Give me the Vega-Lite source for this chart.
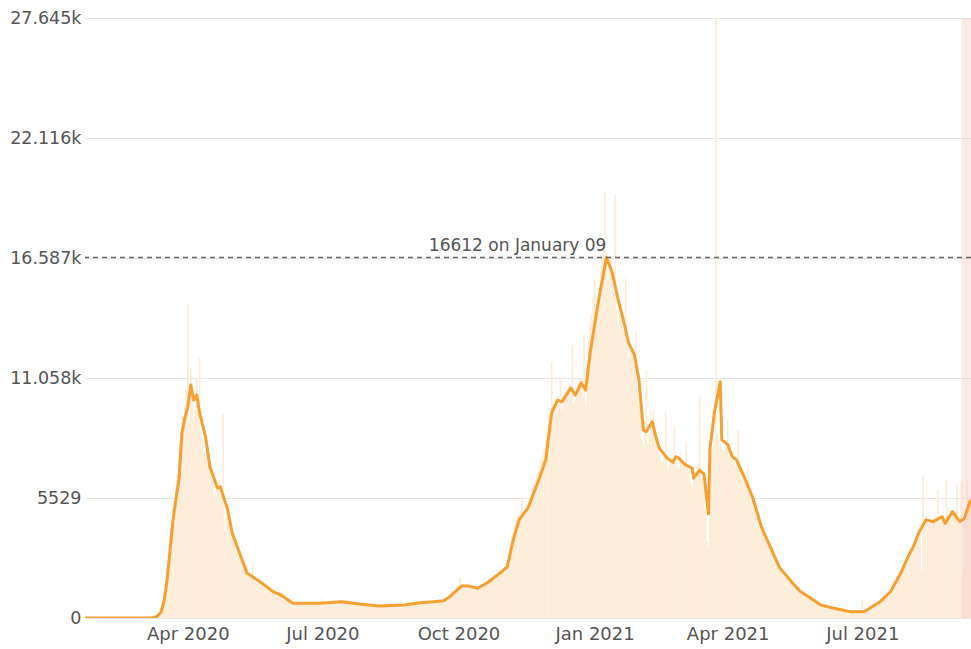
{
  "$schema": "https://vega.github.io/schema/vega-lite/v6.json",
  "width": 886,
  "height": 600,
  "autosize": {"type": "none"},
  "padding": {"left": 85, "top": 18, "right": 0, "bottom": 31},
  "background": "white",
  "config": {
    "view": {"stroke": null},
    "font": "DejaVu Sans",
    "axis": {"labelFont": "DejaVu Sans", "labelColor": "#555555", "domain": false, "ticks": false}
  },
  "datasets": {
    "daily": [
      {"d":"2020-01-22","v":0},{"d":"2020-01-23","v":0},{"d":"2020-01-24","v":0},{"d":"2020-01-25","v":0},{"d":"2020-01-26","v":0},{"d":"2020-01-27","v":0},{"d":"2020-01-28","v":0},{"d":"2020-01-29","v":0},{"d":"2020-01-30","v":0},{"d":"2020-01-31","v":0},
      {"d":"2020-02-01","v":0},{"d":"2020-02-02","v":0},{"d":"2020-02-03","v":0},{"d":"2020-02-04","v":0},{"d":"2020-02-05","v":0},{"d":"2020-02-06","v":0},{"d":"2020-02-07","v":0},{"d":"2020-02-08","v":0},{"d":"2020-02-09","v":0},{"d":"2020-02-10","v":0},{"d":"2020-02-11","v":0},{"d":"2020-02-12","v":0},{"d":"2020-02-13","v":0},{"d":"2020-02-14","v":0},{"d":"2020-02-15","v":0},{"d":"2020-02-16","v":0},{"d":"2020-02-17","v":0},{"d":"2020-02-18","v":0},{"d":"2020-02-19","v":0},{"d":"2020-02-20","v":0},{"d":"2020-02-21","v":0},{"d":"2020-02-22","v":0},{"d":"2020-02-23","v":0},{"d":"2020-02-24","v":0},{"d":"2020-02-25","v":0},{"d":"2020-02-26","v":0},{"d":"2020-02-27","v":0},{"d":"2020-02-28","v":0},{"d":"2020-02-29","v":0},
      {"d":"2020-03-01","v":0},{"d":"2020-03-02","v":0},{"d":"2020-03-03","v":0},{"d":"2020-03-04","v":2},{"d":"2020-03-05","v":5},{"d":"2020-03-06","v":8},{"d":"2020-03-07","v":10},{"d":"2020-03-08","v":15},{"d":"2020-03-09","v":40},{"d":"2020-03-10","v":70},{"d":"2020-03-11","v":120},{"d":"2020-03-12","v":200},{"d":"2020-03-13","v":350},{"d":"2020-03-14","v":500},{"d":"2020-03-15","v":800},{"d":"2020-03-16","v":1200},{"d":"2020-03-17","v":1700},{"d":"2020-03-18","v":2300},{"d":"2020-03-19","v":3000},{"d":"2020-03-20","v":3800},{"d":"2020-03-21","v":4400},{"d":"2020-03-22","v":5000},{"d":"2020-03-23","v":5500},{"d":"2020-03-24","v":6100},{"d":"2020-03-25","v":6600},{"d":"2020-03-26","v":7300},{"d":"2020-03-27","v":8200},{"d":"2020-03-28","v":9300},{"d":"2020-03-29","v":9100},{"d":"2020-03-30","v":9800},{"d":"2020-03-31","v":10500},
      {"d":"2020-04-01","v":14500},{"d":"2020-04-02","v":9000},{"d":"2020-04-03","v":11500},{"d":"2020-04-04","v":10800},{"d":"2020-04-05","v":9000},{"d":"2020-04-06","v":9600},{"d":"2020-04-07","v":11000},{"d":"2020-04-08","v":10500},{"d":"2020-04-09","v":12000},{"d":"2020-04-10","v":8500},{"d":"2020-04-11","v":8200},{"d":"2020-04-12","v":7600},{"d":"2020-04-13","v":7400},{"d":"2020-04-14","v":8200},{"d":"2020-04-15","v":7600},{"d":"2020-04-16","v":6900},{"d":"2020-04-17","v":6700},{"d":"2020-04-18","v":6300},{"d":"2020-04-19","v":5600},{"d":"2020-04-20","v":5900},{"d":"2020-04-21","v":6200},{"d":"2020-04-22","v":6400},{"d":"2020-04-23","v":6000},{"d":"2020-04-24","v":5800},{"d":"2020-04-25","v":9400},{"d":"2020-04-26","v":4000},{"d":"2020-04-27","v":4600},{"d":"2020-04-28","v":5000},{"d":"2020-04-29","v":4400},{"d":"2020-04-30","v":4000},
      {"d":"2020-05-01","v":3700},{"d":"2020-05-02","v":3600},{"d":"2020-05-03","v":3300},{"d":"2020-05-04","v":3000},{"d":"2020-05-05","v":3300},{"d":"2020-05-06","v":3100},{"d":"2020-05-07","v":2800},{"d":"2020-05-08","v":2600},{"d":"2020-05-09","v":2400},{"d":"2020-05-10","v":2100},{"d":"2020-05-11","v":2450},{"d":"2020-05-12","v":2000},{"d":"2020-05-13","v":1900},{"d":"2020-05-14","v":2100},{"d":"2020-05-15","v":2450},{"d":"2020-05-16","v":1800},{"d":"2020-05-17","v":1600},{"d":"2020-05-18","v":1700},{"d":"2020-05-19","v":1900},{"d":"2020-05-20","v":1700},{"d":"2020-05-21","v":1600},{"d":"2020-05-22","v":1500},{"d":"2020-05-23","v":1400},{"d":"2020-05-24","v":1300},{"d":"2020-05-25","v":1400},{"d":"2020-05-26","v":1350},{"d":"2020-05-27","v":1300},{"d":"2020-05-28","v":1250},{"d":"2020-05-29","v":1200},{"d":"2020-05-30","v":1150},{"d":"2020-05-31","v":1100},
      {"d":"2020-06-01","v":1100},{"d":"2020-06-02","v":1080},{"d":"2020-06-03","v":1050},{"d":"2020-06-04","v":1000},{"d":"2020-06-05","v":950},{"d":"2020-06-06","v":900},{"d":"2020-06-07","v":850},{"d":"2020-06-08","v":800},{"d":"2020-06-09","v":750},{"d":"2020-06-10","v":720},{"d":"2020-06-11","v":690},{"d":"2020-06-12","v":700},{"d":"2020-06-13","v":670},{"d":"2020-06-14","v":660},{"d":"2020-06-15","v":700},{"d":"2020-06-16","v":680},{"d":"2020-06-17","v":670},{"d":"2020-06-18","v":690},{"d":"2020-06-19","v":680},{"d":"2020-06-20","v":670},{"d":"2020-06-21","v":660},{"d":"2020-06-22","v":700},{"d":"2020-06-23","v":690},{"d":"2020-06-24","v":680},{"d":"2020-06-25","v":670},{"d":"2020-06-26","v":690},{"d":"2020-06-27","v":680},{"d":"2020-06-28","v":700},{"d":"2020-06-29","v":690},{"d":"2020-06-30","v":680},
      {"d":"2020-07-01","v":900},{"d":"2020-07-02","v":690},{"d":"2020-07-03","v":700},{"d":"2020-07-04","v":710},{"d":"2020-07-05","v":720},{"d":"2020-07-06","v":730},{"d":"2020-07-07","v":740},{"d":"2020-07-08","v":760},{"d":"2020-07-09","v":750},{"d":"2020-07-10","v":760},{"d":"2020-07-11","v":770},{"d":"2020-07-12","v":740},{"d":"2020-07-13","v":760},{"d":"2020-07-14","v":750},{"d":"2020-07-15","v":730},{"d":"2020-07-16","v":720},{"d":"2020-07-17","v":700},{"d":"2020-07-18","v":690},{"d":"2020-07-19","v":680},{"d":"2020-07-20","v":670},{"d":"2020-07-21","v":660},{"d":"2020-07-22","v":660},{"d":"2020-07-23","v":650},{"d":"2020-07-24","v":650},{"d":"2020-07-25","v":640},{"d":"2020-07-26","v":640},{"d":"2020-07-27","v":630},{"d":"2020-07-28","v":620},{"d":"2020-07-29","v":620},{"d":"2020-07-30","v":610},{"d":"2020-07-31","v":600},
      {"d":"2020-08-01","v":600},{"d":"2020-08-02","v":590},{"d":"2020-08-03","v":580},{"d":"2020-08-04","v":580},{"d":"2020-08-05","v":570},{"d":"2020-08-06","v":560},{"d":"2020-08-07","v":560},{"d":"2020-08-08","v":550},{"d":"2020-08-09","v":550},{"d":"2020-08-10","v":550},{"d":"2020-08-11","v":560},{"d":"2020-08-12","v":560},{"d":"2020-08-13","v":560},{"d":"2020-08-14","v":570},{"d":"2020-08-15","v":570},{"d":"2020-08-16","v":570},{"d":"2020-08-17","v":580},{"d":"2020-08-18","v":580},{"d":"2020-08-19","v":580},{"d":"2020-08-20","v":580},{"d":"2020-08-21","v":590},{"d":"2020-08-22","v":590},{"d":"2020-08-23","v":590},{"d":"2020-08-24","v":600},{"d":"2020-08-25","v":600},{"d":"2020-08-26","v":610},{"d":"2020-08-27","v":620},{"d":"2020-08-28","v":620},{"d":"2020-08-29","v":630},{"d":"2020-08-30","v":640},{"d":"2020-08-31","v":650},
      {"d":"2020-09-01","v":660},{"d":"2020-09-02","v":670},{"d":"2020-09-03","v":680},{"d":"2020-09-04","v":690},{"d":"2020-09-05","v":705},{"d":"2020-09-06","v":710},{"d":"2020-09-07","v":720},{"d":"2020-09-08","v":720},{"d":"2020-09-09","v":730},{"d":"2020-09-10","v":740},{"d":"2020-09-11","v":740},{"d":"2020-09-12","v":745},{"d":"2020-09-13","v":750},{"d":"2020-09-14","v":750},{"d":"2020-09-15","v":760},{"d":"2020-09-16","v":770},{"d":"2020-09-17","v":780},{"d":"2020-09-18","v":790},{"d":"2020-09-19","v":790},{"d":"2020-09-20","v":800},{"d":"2020-09-21","v":800},{"d":"2020-09-22","v":850},{"d":"2020-09-23","v":900},{"d":"2020-09-24","v":950},{"d":"2020-09-25","v":980},{"d":"2020-09-26","v":1100},{"d":"2020-09-27","v":1200},{"d":"2020-09-28","v":1250},{"d":"2020-09-29","v":1250},{"d":"2020-09-30","v":1400},
      {"d":"2020-10-01","v":1500},{"d":"2020-10-02","v":1840},{"d":"2020-10-03","v":1500},{"d":"2020-10-04","v":1450},{"d":"2020-10-05","v":1480},{"d":"2020-10-06","v":1500},{"d":"2020-10-07","v":1460},{"d":"2020-10-08","v":1480},{"d":"2020-10-09","v":1700},{"d":"2020-10-10","v":1400},{"d":"2020-10-11","v":1380},{"d":"2020-10-12","v":1350},{"d":"2020-10-13","v":1360},{"d":"2020-10-14","v":1380},{"d":"2020-10-15","v":1400},{"d":"2020-10-16","v":1450},{"d":"2020-10-17","v":1500},{"d":"2020-10-18","v":1550},{"d":"2020-10-19","v":1600},{"d":"2020-10-20","v":1620},{"d":"2020-10-21","v":1650},{"d":"2020-10-22","v":1680},{"d":"2020-10-23","v":1700},{"d":"2020-10-24","v":1800},{"d":"2020-10-25","v":1850},{"d":"2020-10-26","v":1900},{"d":"2020-10-27","v":1950},{"d":"2020-10-28","v":2000},{"d":"2020-10-29","v":2100},{"d":"2020-10-30","v":2200},{"d":"2020-10-31","v":2250},
      {"d":"2020-11-01","v":2300},{"d":"2020-11-02","v":2400},{"d":"2020-11-03","v":2600},{"d":"2020-11-04","v":3000},{"d":"2020-11-05","v":3400},{"d":"2020-11-06","v":3800},{"d":"2020-11-07","v":4000},{"d":"2020-11-08","v":4300},{"d":"2020-11-09","v":4500},{"d":"2020-11-10","v":4700},{"d":"2020-11-11","v":4800},{"d":"2020-11-12","v":5000},{"d":"2020-11-13","v":5575},{"d":"2020-11-14","v":4900},{"d":"2020-11-15","v":4700},{"d":"2020-11-16","v":5100},{"d":"2020-11-17","v":5300},{"d":"2020-11-18","v":5400},{"d":"2020-11-19","v":5700},{"d":"2020-11-20","v":6000},{"d":"2020-11-21","v":6200},{"d":"2020-11-22","v":6400},{"d":"2020-11-23","v":6600},{"d":"2020-11-24","v":6800},{"d":"2020-11-25","v":7000},{"d":"2020-11-26","v":7300},{"d":"2020-11-27","v":7500},{"d":"2020-11-28","v":7800},{"d":"2020-11-29","v":8200},{"d":"2020-11-30","v":8800},
      {"d":"2020-12-01","v":9200},{"d":"2020-12-02","v":9600},{"d":"2020-12-03","v":11810},{"d":"2020-12-04","v":9800},{"d":"2020-12-05","v":9500},{"d":"2020-12-06","v":10000},{"d":"2020-12-07","v":10200},{"d":"2020-12-08","v":9800},{"d":"2020-12-09","v":11120},{"d":"2020-12-10","v":9600},{"d":"2020-12-11","v":10000},{"d":"2020-12-12","v":10400},{"d":"2020-12-13","v":10300},{"d":"2020-12-14","v":10500},{"d":"2020-12-15","v":10800},{"d":"2020-12-16","v":10600},{"d":"2020-12-17","v":12580},{"d":"2020-12-18","v":9900},{"d":"2020-12-19","v":10100},{"d":"2020-12-20","v":10500},{"d":"2020-12-21","v":10800},{"d":"2020-12-22","v":11000},{"d":"2020-12-23","v":10900},{"d":"2020-12-24","v":11200},{"d":"2020-12-25","v":13040},{"d":"2020-12-26","v":9800},{"d":"2020-12-27","v":11500},{"d":"2020-12-28","v":12800},{"d":"2020-12-29","v":13500},{"d":"2020-12-30","v":14000},{"d":"2020-12-31","v":14800},
      {"d":"2021-01-01","v":15570},{"d":"2021-01-02","v":14000},{"d":"2021-01-03","v":14500},{"d":"2021-01-04","v":15000},{"d":"2021-01-05","v":16000},{"d":"2021-01-06","v":16500},{"d":"2021-01-07","v":17000},{"d":"2021-01-08","v":19580},{"d":"2021-01-09","v":16800},{"d":"2021-01-10","v":15500},{"d":"2021-01-11","v":16000},{"d":"2021-01-12","v":16500},{"d":"2021-01-13","v":16200},{"d":"2021-01-14","v":15000},{"d":"2021-01-15","v":19490},{"d":"2021-01-16","v":14200},{"d":"2021-01-17","v":13500},{"d":"2021-01-18","v":14000},{"d":"2021-01-19","v":14500},{"d":"2021-01-20","v":13800},{"d":"2021-01-21","v":13200},{"d":"2021-01-22","v":15730},{"d":"2021-01-23","v":12500},{"d":"2021-01-24","v":12000},{"d":"2021-01-25","v":12300},{"d":"2021-01-26","v":12600},{"d":"2021-01-27","v":12200},{"d":"2021-01-28","v":11800},{"d":"2021-01-29","v":13130},{"d":"2021-01-30","v":10500},{"d":"2021-01-31","v":9800},
      {"d":"2021-02-01","v":9500},{"d":"2021-02-02","v":8200},{"d":"2021-02-03","v":8000},{"d":"2021-02-04","v":9000},{"d":"2021-02-05","v":11430},{"d":"2021-02-06","v":8000},{"d":"2021-02-07","v":8500},{"d":"2021-02-08","v":9500},{"d":"2021-02-09","v":9200},{"d":"2021-02-10","v":9600},{"d":"2021-02-11","v":8400},{"d":"2021-02-12","v":8000},{"d":"2021-02-13","v":7600},{"d":"2021-02-14","v":7500},{"d":"2021-02-15","v":7300},{"d":"2021-02-16","v":7200},{"d":"2021-02-17","v":7400},{"d":"2021-02-18","v":9500},{"d":"2021-02-19","v":7000},{"d":"2021-02-20","v":6800},{"d":"2021-02-21","v":7100},{"d":"2021-02-22","v":7300},{"d":"2021-02-23","v":7200},{"d":"2021-02-24","v":8810},{"d":"2021-02-25","v":7200},{"d":"2021-02-26","v":7000},{"d":"2021-02-27","v":6900},{"d":"2021-02-28","v":7600},
      {"d":"2021-03-01","v":7300},{"d":"2021-03-02","v":7000},{"d":"2021-03-03","v":7100},{"d":"2021-03-04","v":8060},{"d":"2021-03-05","v":6900},{"d":"2021-03-06","v":6800},{"d":"2021-03-07","v":6200},{"d":"2021-03-08","v":6000},{"d":"2021-03-09","v":6500},{"d":"2021-03-10","v":6800},{"d":"2021-03-11","v":7000},{"d":"2021-03-12","v":7100},{"d":"2021-03-13","v":10200},{"d":"2021-03-14","v":6500},{"d":"2021-03-15","v":6600},{"d":"2021-03-16","v":6700},{"d":"2021-03-17","v":5000},{"d":"2021-03-18","v":3500},{"d":"2021-03-19","v":3300},{"d":"2021-03-20","v":6900},{"d":"2021-03-21","v":7500},{"d":"2021-03-22","v":7800},{"d":"2021-03-23","v":8200},{"d":"2021-03-24","v":27645},{"d":"2021-03-25","v":8500},{"d":"2021-03-26","v":8200},{"d":"2021-03-27","v":8000},{"d":"2021-03-28","v":7800},{"d":"2021-03-29","v":7700},{"d":"2021-03-30","v":7900},{"d":"2021-03-31","v":8000},
      {"d":"2021-04-01","v":9120},{"d":"2021-04-02","v":7800},{"d":"2021-04-03","v":7600},{"d":"2021-04-04","v":7300},{"d":"2021-04-05","v":7200},{"d":"2021-04-06","v":7000},{"d":"2021-04-07","v":7300},{"d":"2021-04-08","v":8660},{"d":"2021-04-09","v":7000},{"d":"2021-04-10","v":6800},{"d":"2021-04-11","v":6700},{"d":"2021-04-12","v":6500},{"d":"2021-04-13","v":6300},{"d":"2021-04-14","v":6200},{"d":"2021-04-15","v":6970},{"d":"2021-04-16","v":5900},{"d":"2021-04-17","v":5700},{"d":"2021-04-18","v":5500},{"d":"2021-04-19","v":5400},{"d":"2021-04-20","v":5200},{"d":"2021-04-21","v":5000},{"d":"2021-04-22","v":4800},{"d":"2021-04-23","v":4500},{"d":"2021-04-24","v":4300},{"d":"2021-04-25","v":4100},{"d":"2021-04-26","v":3900},{"d":"2021-04-27","v":3700},{"d":"2021-04-28","v":3600},{"d":"2021-04-29","v":3400},{"d":"2021-04-30","v":3300},
      {"d":"2021-05-01","v":3150},{"d":"2021-05-02","v":3000},{"d":"2021-05-03","v":2850},{"d":"2021-05-04","v":2700},{"d":"2021-05-05","v":2550},{"d":"2021-05-06","v":2400},{"d":"2021-05-07","v":2300},{"d":"2021-05-08","v":2200},{"d":"2021-05-09","v":2100},{"d":"2021-05-10","v":2000},{"d":"2021-05-11","v":1950},{"d":"2021-05-12","v":1900},{"d":"2021-05-13","v":1800},{"d":"2021-05-14","v":1750},{"d":"2021-05-15","v":1650},{"d":"2021-05-16","v":1550},{"d":"2021-05-17","v":1500},{"d":"2021-05-18","v":1400},{"d":"2021-05-19","v":1350},{"d":"2021-05-20","v":1250},{"d":"2021-05-21","v":1200},{"d":"2021-05-22","v":1100},{"d":"2021-05-23","v":1050},{"d":"2021-05-24","v":1000},{"d":"2021-05-25","v":950},{"d":"2021-05-26","v":900},{"d":"2021-05-27","v":850},{"d":"2021-05-28","v":800},{"d":"2021-05-29","v":760},{"d":"2021-05-30","v":730},{"d":"2021-05-31","v":700},
      {"d":"2021-06-01","v":680},{"d":"2021-06-02","v":650},{"d":"2021-06-03","v":620},{"d":"2021-06-04","v":600},{"d":"2021-06-05","v":580},{"d":"2021-06-06","v":560},{"d":"2021-06-07","v":540},{"d":"2021-06-08","v":520},{"d":"2021-06-09","v":500},{"d":"2021-06-10","v":480},{"d":"2021-06-11","v":460},{"d":"2021-06-12","v":450},{"d":"2021-06-13","v":430},{"d":"2021-06-14","v":410},{"d":"2021-06-15","v":400},{"d":"2021-06-16","v":380},{"d":"2021-06-17","v":370},{"d":"2021-06-18","v":350},{"d":"2021-06-19","v":340},{"d":"2021-06-20","v":330},{"d":"2021-06-21","v":320},{"d":"2021-06-22","v":310},{"d":"2021-06-23","v":300},{"d":"2021-06-24","v":295},{"d":"2021-06-25","v":290},{"d":"2021-06-26","v":290},{"d":"2021-06-27","v":285},{"d":"2021-06-28","v":285},{"d":"2021-06-29","v":285},{"d":"2021-06-30","v":285},
      {"d":"2021-07-01","v":830},{"d":"2021-07-02","v":300},{"d":"2021-07-03","v":330},{"d":"2021-07-04","v":380},{"d":"2021-07-05","v":430},{"d":"2021-07-06","v":480},{"d":"2021-07-07","v":520},{"d":"2021-07-08","v":570},{"d":"2021-07-09","v":620},{"d":"2021-07-10","v":660},{"d":"2021-07-11","v":700},{"d":"2021-07-12","v":740},{"d":"2021-07-13","v":800},{"d":"2021-07-14","v":860},{"d":"2021-07-15","v":920},{"d":"2021-07-16","v":990},{"d":"2021-07-17","v":1050},{"d":"2021-07-18","v":1120},{"d":"2021-07-19","v":1190},{"d":"2021-07-20","v":1260},{"d":"2021-07-21","v":1350},{"d":"2021-07-22","v":1450},{"d":"2021-07-23","v":1560},{"d":"2021-07-24","v":1680},{"d":"2021-07-25","v":1800},{"d":"2021-07-26","v":1920},{"d":"2021-07-27","v":2050},{"d":"2021-07-28","v":2200},{"d":"2021-07-29","v":2350},{"d":"2021-07-30","v":2500},{"d":"2021-07-31","v":2650},
      {"d":"2021-08-01","v":2800},{"d":"2021-08-02","v":2950},{"d":"2021-08-03","v":3100},{"d":"2021-08-04","v":3300},{"d":"2021-08-05","v":3500},{"d":"2021-08-06","v":3700},{"d":"2021-08-07","v":3900},{"d":"2021-08-08","v":4100},{"d":"2021-08-09","v":4300},{"d":"2021-08-10","v":2200},{"d":"2021-08-11","v":6590},{"d":"2021-08-12","v":4600},{"d":"2021-08-13","v":4700},{"d":"2021-08-14","v":4500},{"d":"2021-08-15","v":4300},{"d":"2021-08-16","v":4400},{"d":"2021-08-17","v":4500},{"d":"2021-08-18","v":4400},{"d":"2021-08-19","v":4600},{"d":"2021-08-20","v":4700},{"d":"2021-08-21","v":5900},{"d":"2021-08-22","v":4500},{"d":"2021-08-23","v":4400},{"d":"2021-08-24","v":4600},{"d":"2021-08-25","v":4700},{"d":"2021-08-26","v":4300},{"d":"2021-08-27","v":6360},{"d":"2021-08-28","v":4500},{"d":"2021-08-29","v":4700},{"d":"2021-08-30","v":4900},{"d":"2021-08-31","v":5000},
      {"d":"2021-09-01","v":4800},{"d":"2021-09-02","v":4900},{"d":"2021-09-03","v":6130},{"d":"2021-09-04","v":4600},{"d":"2021-09-05","v":4500},{"d":"2021-09-06","v":6280},{"d":"2021-09-07","v":2100},{"d":"2021-09-08","v":4700},{"d":"2021-09-09","v":4900},{"d":"2021-09-10","v":6360},{"d":"2021-09-11","v":5200},{"d":"2021-09-12","v":5500}
    ],
    "avg": [
      {"d":"2020-01-22","a":0},{"d":"2020-03-08","a":10},{"d":"2020-03-11","a":60},{"d":"2020-03-14","a":280},{"d":"2020-03-16","a":800},{"d":"2020-03-18","a":1750},{"d":"2020-03-20","a":3100},{"d":"2020-03-22","a":4500},{"d":"2020-03-24","a":5500},{"d":"2020-03-26","a":6360},{"d":"2020-03-28","a":8520},{"d":"2020-03-30","a":9200},
      {"d":"2020-04-01","a":9720},{"d":"2020-04-03","a":10740},{"d":"2020-04-05","a":10040},{"d":"2020-04-07","a":10270},{"d":"2020-04-09","a":9450},{"d":"2020-04-13","a":8340},{"d":"2020-04-16","a":6960},{"d":"2020-04-21","a":5990},{"d":"2020-04-23","a":6040},{"d":"2020-04-28","a":4980},
      {"d":"2020-05-01","a":3920},{"d":"2020-05-07","a":2810},{"d":"2020-05-11","a":2070},{"d":"2020-05-20","a":1660},{"d":"2020-05-29","a":1200},{"d":"2020-06-03","a":1060},{"d":"2020-06-11","a":680},{"d":"2020-06-29","a":680},{"d":"2020-07-14","a":750},{"d":"2020-07-26","a":645},{"d":"2020-08-08","a":550},{"d":"2020-08-25","a":600},
      {"d":"2020-09-05","a":705},{"d":"2020-09-14","a":750},{"d":"2020-09-21","a":800},{"d":"2020-09-25","a":980},{"d":"2020-10-03","a":1470},{"d":"2020-10-08","a":1470},{"d":"2020-10-14","a":1370},{"d":"2020-10-20","a":1600},{"d":"2020-10-29","a":2070},
      {"d":"2020-11-03","a":2360},{"d":"2020-11-07","a":3590},{"d":"2020-11-11","a":4520},{"d":"2020-11-17","a":5070},{"d":"2020-11-25","a":6500},{"d":"2020-11-29","a":7280},
      {"d":"2020-12-03","a":9450},{"d":"2020-12-07","a":10040},{"d":"2020-12-10","a":9970},{"d":"2020-12-16","a":10600},{"d":"2020-12-19","a":10270},{"d":"2020-12-23","a":10830},{"d":"2020-12-26","a":10500},{"d":"2020-12-29","a":12210},
      {"d":"2021-01-03","a":14340},{"d":"2021-01-09","a":16612},{"d":"2021-01-13","a":15900},{"d":"2021-01-17","a":14650},{"d":"2021-01-21","a":13590},{"d":"2021-01-24","a":12670},{"d":"2021-01-28","a":12120},{"d":"2021-01-31","a":10970},
      {"d":"2021-02-03","a":8660},{"d":"2021-02-05","a":8580},{"d":"2021-02-09","a":9040},{"d":"2021-02-12","a":8200},{"d":"2021-02-14","a":7800},{"d":"2021-02-19","a":7380},{"d":"2021-02-23","a":7170},{"d":"2021-02-25","a":7430},{"d":"2021-02-27","a":7360},
      {"d":"2021-03-03","a":7080},{"d":"2021-03-08","a":6900},{"d":"2021-03-09","a":6440},{"d":"2021-03-13","a":6810},{"d":"2021-03-16","a":6630},{"d":"2021-03-19","a":4800},{"d":"2021-03-20","a":7800},{"d":"2021-03-23","a":9450},{"d":"2021-03-27","a":10890},{"d":"2021-03-28","a":8200},
      {"d":"2021-04-01","a":8000},{"d":"2021-04-04","a":7450},{"d":"2021-04-07","a":7270},{"d":"2021-04-12","a":6530},{"d":"2021-04-18","a":5530},{"d":"2021-04-24","a":4160},{"d":"2021-04-30","a":3240},
      {"d":"2021-05-06","a":2330},{"d":"2021-05-15","a":1600},{"d":"2021-05-20","a":1230},{"d":"2021-06-03","a":600},{"d":"2021-06-12","a":445},{"d":"2021-06-23","a":290},{"d":"2021-07-02","a":290},{"d":"2021-07-06","a":445},{"d":"2021-07-13","a":750},{"d":"2021-07-20","a":1210},{"d":"2021-07-27","a":2060},
      {"d":"2021-08-01","a":2830},{"d":"2021-08-05","a":3360},{"d":"2021-08-08","a":3900},{"d":"2021-08-13","a":4520},{"d":"2021-08-18","a":4440},{"d":"2021-08-24","a":4670},{"d":"2021-08-26","a":4360},{"d":"2021-08-31","a":4900},{"d":"2021-09-05","a":4440},{"d":"2021-09-08","a":4590},{"d":"2021-09-12","a":5400}
    ],
    "peak": [{"d":"2021-01-09","p":16612,"label":"16612 on January 09"}],
    "band": [{"start":"2021-09-06","end":"2021-09-12T12:00:00"}]
  },
  "layer": [
    {
      "data": {"name": "daily"},
      "mark": {"type": "bar", "width": 1.7, "color": "#fdecd8", "clip": true},
      "encoding": {
        "x": {"field": "d", "type": "temporal",
              "scale": {"domain": [{"year": 2020, "month": 1, "date": 22, "hours": 12}, {"year": 2021, "month": 9, "date": 12, "hours": 12}], "padding": 0},
              "axis": {"title": null, "format": "%b %Y", "tickCount": {"interval": "month", "step": 3}, "grid": false, "labelPadding": 7, "labelFontSize": 18}},
        "y": {"field": "v", "type": "quantitative",
              "scale": {"domain": [0, 27645], "nice": false},
              "axis": {"title": null, "values": [0, 5529, 11058, 16587, 22116, 27645], "labelExpr": "datum.value >= 10000 ? format(datum.value / 1000, '.3f') + 'k' : format(datum.value, 'd')", "gridColor": "#e6e6e6", "labelPadding": 4, "labelFontSize": 17.5}}
      }
    },
    {
      "data": {"name": "band"},
      "mark": {"type": "rect", "color": "#f8c9c4", "opacity": 0.4, "clip": true},
      "encoding": {
        "x": {"field": "start", "type": "temporal"},
        "x2": {"field": "end"}
      }
    },
    {
      "data": {"name": "avg"},
      "mark": {"type": "line", "color": "#f5a031", "strokeWidth": 3, "clip": true, "strokeJoin": "round", "strokeCap": "round"},
      "encoding": {
        "x": {"field": "d", "type": "temporal"},
        "y": {"field": "a", "type": "quantitative"}
      }
    },
    {
      "data": {"name": "peak"},
      "mark": {"type": "rule", "color": "#666666", "strokeWidth": 1.5, "strokeDash": [5, 4]},
      "encoding": {
        "y": {"field": "p", "type": "quantitative"}
      }
    },
    {
      "data": {"name": "peak"},
      "mark": {"type": "text", "align": "right", "baseline": "alphabetic", "dy": -6, "fontSize": 17, "color": "#555555", "font": "DejaVu Sans"},
      "encoding": {
        "x": {"field": "d", "type": "temporal"},
        "y": {"field": "p", "type": "quantitative"},
        "text": {"field": "label"}
      }
    }
  ]
}
